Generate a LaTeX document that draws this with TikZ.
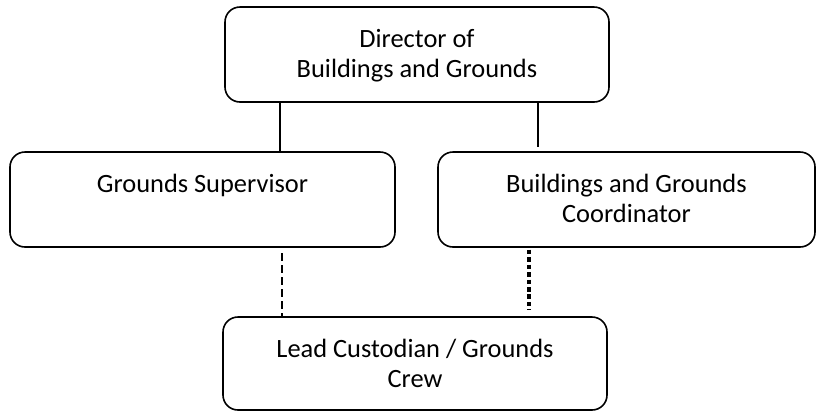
\documentclass[tikz,border=0pt]{standalone}
\usepackage{fontspec}
\setmainfont{Carlito}
\newcommand{\boxtext}[3]{\parbox[c][#2][t]{#1}{\centering\fontsize{19.8pt}{22.5pt}\selectfont\rule{0pt}{30pt}#3\par}}
\tikzset{
  orgbox/.style={draw, line width=1.2pt, rounded corners=11.25pt, inner sep=0pt, outer sep=0pt},
  solidlink/.style={line width=1.2pt},
  dashlink/.style={line width=1.2pt, dash pattern=on 6pt off 3pt},
  dotlink/.style={line width=3pt, dash pattern=on 3.4pt off 2.2pt}
}
\begin{document}
\begin{tikzpicture}[x=0.75pt, y=-0.75pt]
\useasboundingbox (0,0) rectangle (817,412);
\node[orgbox] (top) at (417,54.5) {\boxtext{288pt}{71.25pt}{Director of\\Buildings and Grounds}};
\node[orgbox] (left) at (202.5,199.5) {\boxtext{288.75pt}{71.25pt}{Grounds Supervisor}};
\node[orgbox] (right) at (626.5,199.5) {\boxtext{282.75pt}{71.25pt}{Buildings and Grounds\\Coordinator}};
\node[orgbox] (bottom) at (415,363.5) {\boxtext{288pt}{69.75pt}{Lead Custodian / Grounds\\Crew}};
\coordinate (c1) at (280,0);
\coordinate (c2) at (538,0);
\coordinate (c3) at (282,0);
\coordinate (c4) at (529,0);
\draw[solidlink] (c1 |- top.south) -- (c1 |- left.north);
\draw[solidlink, shorten >=3.5pt] (c2 |- top.south) -- (c2 |- right.north);
\draw[dashlink, shorten <=4.5pt] (c3 |- left.south) -- (c3 |- bottom.north);
\draw[dotlink, shorten <=2pt, shorten >=5pt] (c4 |- right.south) -- (c4 |- bottom.north);
\end{tikzpicture}
\end{document}
